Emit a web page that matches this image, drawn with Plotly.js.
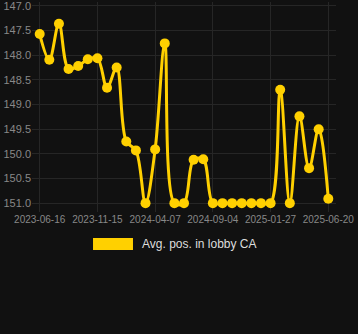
<!DOCTYPE html>
<html>
<head>
<meta charset="utf-8">
<script src="https://cdn.plot.ly/plotly-3.0.1.min.js"></script>
<style>
html,body{margin:0;padding:0;background:#111111;}
#chart{width:358px;height:334px;}
</style>
</head>
<body>
<div id="chart"></div>
<script>
var dates = [
  "2023-06-16","2023-07-11","2023-08-05","2023-08-31","2023-09-25","2023-10-20",
  "2023-11-15","2023-12-09","2024-01-02","2024-01-26","2024-02-19","2024-03-14",
  "2024-04-07","2024-05-02","2024-05-27","2024-06-21","2024-07-16","2024-08-10",
  "2024-09-04","2024-09-28","2024-10-22","2024-11-16","2024-12-10","2025-01-03",
  "2025-01-27","2025-02-20","2025-03-16","2025-04-09","2025-05-03","2025-05-27",
  "2025-06-20"
];
var avgPos = [
  147.57, 148.09, 147.36, 148.28, 148.22, 148.08,
  148.06, 148.66, 148.25, 149.75, 149.93, 151.0,
  149.91, 147.76, 151.0, 151.0, 150.12, 150.11,
  151.0, 151.0, 151.0, 151.0, 151.0, 151.0,
  151.0, 148.70, 151.0, 149.24, 150.29, 149.5,
  150.91
];
var tickDates = ["2023-06-16","2023-11-15","2024-04-07","2024-09-04","2025-01-27","2025-06-20"];
var yTicks = [147.0,147.5,148.0,148.5,149.0,149.5,150.0,150.5,151.0];
var seriesName = "Avg. pos. in lobby CA";
var gold = "#FFD000";

var traces = [
  {
    x: dates, y: avgPos, type: "scatter", mode: "lines+markers",
    name: seriesName,
    line: {color: gold, width: 3, shape: "spline", smoothing: 1},
    marker: {color: gold, size: 10},
    showlegend: false, hoverinfo: "x+y"
  }
];

var layout = {
  width: 358, height: 334,
  paper_bgcolor: "#111111", plot_bgcolor: "#111111",
  margin: {l: 32, r: 22, t: 2, b: 122},
  font: {family: "Liberation Sans, Arial, sans-serif", color: "#888888", size: 10},
  xaxis: {
    type: "category", range: [-0.8, 30.8],
    tickmode: "array", tickvals: tickDates, ticktext: tickDates,
    showgrid: true, gridcolor: "#262626", gridwidth: 1,
    zeroline: false, showline: false, ticks: "",
    ticklabeloverflow: "allow",
    tickfont: {size: 10, color: "#888888"}
  },
  yaxis: {
    range: [151.18, 146.92],
    tickmode: "array", tickvals: yTicks, ticktext: yTicks.map(function(v){return v.toFixed(1);}),
    showgrid: true, gridcolor: "#262626", gridwidth: 1,
    zeroline: false, showline: false, ticks: "",
    ticklabeloverflow: "allow",
    tickfont: {size: 11, color: "#888888"}
  },
  showlegend: false,
  shapes: [
    {type: "rect", xref: "paper", yref: "paper",
     x0: 0.2007, x1: 0.3322, y0: -0.1238, y1: -0.181,
     fillcolor: gold, line: {width: 0}}
  ],
  annotations: [
    {xref: "paper", yref: "paper", x: 0.3553, y: -0.1524,
     xanchor: "left", yanchor: "middle", showarrow: false,
     text: seriesName, font: {size: 12, color: "#dddddd"}}
  ]
};

Plotly.newPlot("chart", traces, layout, {displayModeBar: false, staticPlot: true});
</script>
</body>
</html>
